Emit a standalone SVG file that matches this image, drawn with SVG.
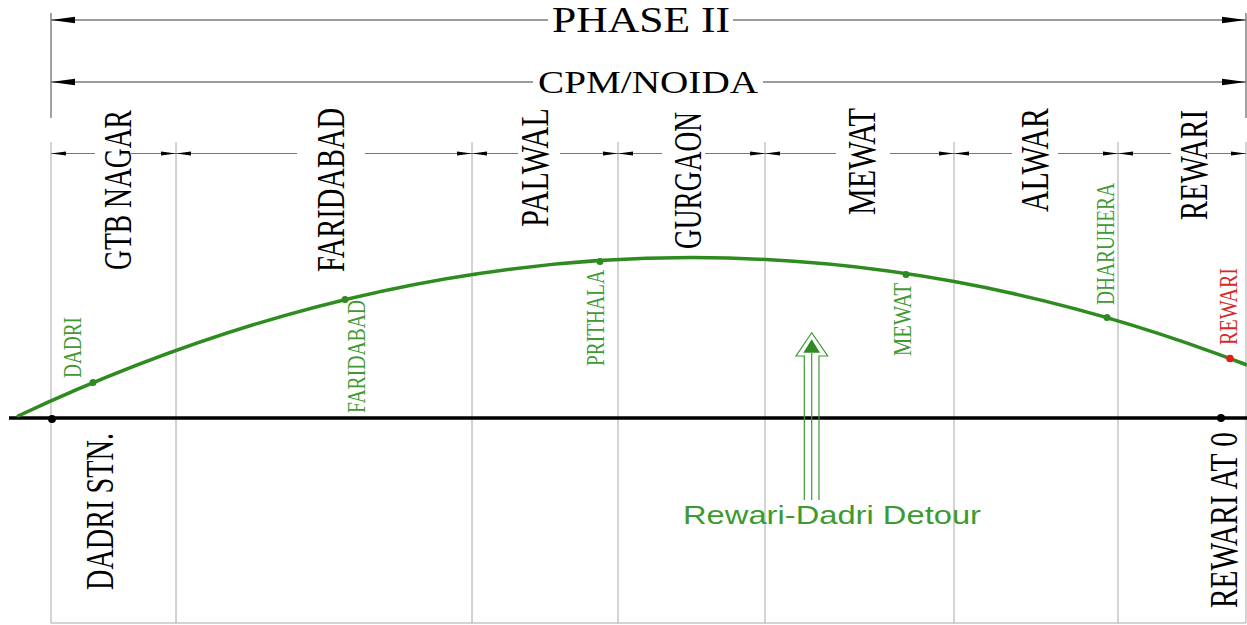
<svg xmlns="http://www.w3.org/2000/svg" width="1247" height="625" viewBox="0 0 1247 625">
<style>
.bg{fill:#fff}
.frame{stroke:#7a7a7a;stroke-width:1.4;fill:none}
.dim{stroke:#777;stroke-width:1;fill:none}
.grid{stroke:#a8a8a8;stroke-width:1;fill:none}
.base{stroke:#000;stroke-width:3.5;fill:none}
.route{stroke:#2e8b1f;stroke-width:3.5;fill:none}
.ar{fill:#000}
.lbl{font-family:"Liberation Serif","Times New Roman",serif;fill:#000;font-size:39px}
.title{font-family:"Liberation Serif","Times New Roman",serif;fill:#000}
.glbl{font-family:"Liberation Serif","Times New Roman",serif;fill:#3f9a33;font-size:25px}
.rlbl{font-family:"Liberation Serif","Times New Roman",serif;fill:#d42a2a;font-size:25px}
.gdot{fill:#2e8b1f}
.det{stroke:#3c9a30;stroke-width:1.2;fill:none}
.dett{font-family:"Liberation Sans",Arial,sans-serif;fill:#3c9a30;font-size:26.5px}
</style>
<defs>
<path id="dL" d="M0,0 L15,-2 L15,2 Z"/>
<path id="dR" d="M0,0 L-15,-2 L-15,2 Z"/>
<path id="bL" d="M0,0 L24,-3.2 L24,3.2 Z"/>
<path id="bR" d="M0,0 L-24,-3.2 L-24,3.2 Z"/>
</defs>
<rect class="bg" x="0" y="0" width="1247" height="625"/>

<g id="frame">
<line class="frame" x1="51" y1="13" x2="51" y2="118"/>
<line class="frame" x1="1246" y1="13" x2="1246" y2="118"/>
<line class="grid" x1="51" y1="142" x2="51" y2="623"/>
<line class="grid" x1="1246" y1="142" x2="1246" y2="623"/>
<line class="grid" x1="51" y1="623" x2="1246" y2="623"/>
<line class="grid" x1="176" y1="142" x2="176" y2="623"/>
<line class="grid" x1="472" y1="142" x2="472" y2="623"/>
<line class="grid" x1="618" y1="142" x2="618" y2="623"/>
<line class="grid" x1="765" y1="142" x2="765" y2="623"/>
<line class="grid" x1="954" y1="142" x2="954" y2="623"/>
<line class="grid" x1="1118" y1="142" x2="1118" y2="623"/>
</g>

<g id="connectors">
<!-- PHASE II dimension -->
<line class="frame" x1="51" y1="20" x2="548" y2="20"/>
<line class="frame" x1="733" y1="20" x2="1246" y2="20"/>
<use href="#bL" class="ar" x="51" y="20"/>
<use href="#bR" class="ar" x="1246" y="20"/>
<!-- CPM/NOIDA dimension -->
<line class="frame" x1="51" y1="82" x2="533" y2="82"/>
<line class="frame" x1="763" y1="82" x2="1246" y2="82"/>
<use href="#bL" class="ar" x="51" y="82"/>
<use href="#bR" class="ar" x="1246" y="82"/>
<!-- district dimension row -->
<path class="dim" d="M51,153.5H95M131,153.5H176M176,153.5H297M365,153.5H472M472,153.5H518M560,153.5H618M618,153.5H662M705,153.5H765M765,153.5H836M890,153.5H954M954,153.5H1012M1058,153.5H1118M1118,153.5H1171M1208,153.5H1246"/>
<use href="#dL" class="ar" x="51" y="153.5"/>
<use href="#dR" class="ar" x="176" y="153.5"/><use href="#dL" class="ar" x="176" y="153.5"/>
<use href="#dR" class="ar" x="472" y="153.5"/><use href="#dL" class="ar" x="472" y="153.5"/>
<use href="#dR" class="ar" x="618" y="153.5"/><use href="#dL" class="ar" x="618" y="153.5"/>
<use href="#dR" class="ar" x="765" y="153.5"/><use href="#dL" class="ar" x="765" y="153.5"/>
<use href="#dR" class="ar" x="954" y="153.5"/><use href="#dL" class="ar" x="954" y="153.5"/>
<use href="#dR" class="ar" x="1118" y="153.5"/><use href="#dL" class="ar" x="1118" y="153.5"/>
<use href="#dR" class="ar" x="1246" y="153.5"/>
<!-- baseline track and detour curve -->
<line class="base" x1="9" y1="418" x2="1247" y2="418"/>
<path class="route" d="M17,416.5 Q632,127 1247,365"/>
</g>

<g id="titles">
<text class="title" x="552" y="32" font-size="36" textLength="178" lengthAdjust="spacingAndGlyphs">PHASE II</text>
<text class="title" x="538" y="93" font-size="32" textLength="220" lengthAdjust="spacingAndGlyphs">CPM/NOIDA</text>
</g>

<g id="districts">
<text class="lbl" transform="translate(131,270) rotate(-90)" textLength="160" lengthAdjust="spacingAndGlyphs">GTB NAGAR</text>
<text class="lbl" transform="translate(344,272) rotate(-90)" textLength="164" lengthAdjust="spacingAndGlyphs">FARIDABAD</text>
<text class="lbl" transform="translate(548,227) rotate(-90)" textLength="119" lengthAdjust="spacingAndGlyphs">PALWAL</text>
<text class="lbl" transform="translate(701,249) rotate(-90)" textLength="137" lengthAdjust="spacingAndGlyphs">GURGAON</text>
<text class="lbl" transform="translate(875,215) rotate(-90)" textLength="107" lengthAdjust="spacingAndGlyphs">MEWAT</text>
<text class="lbl" transform="translate(1048,212) rotate(-90)" textLength="104" lengthAdjust="spacingAndGlyphs">ALWAR</text>
<text class="lbl" transform="translate(1207,220) rotate(-90)" textLength="110" lengthAdjust="spacingAndGlyphs">REWARI</text>
</g>

<g id="stations">
<g id="st-dadri"><circle class="gdot" cx="93" cy="382.5" r="3.5"/><text class="glbl" transform="translate(81,378) rotate(-90)" textLength="61" lengthAdjust="spacingAndGlyphs">DADRI</text></g>
<g id="st-faridabad"><circle class="gdot" cx="345" cy="299.5" r="3.5"/><text class="glbl" transform="translate(365,413) rotate(-90)" textLength="113" lengthAdjust="spacingAndGlyphs">FARIDABAD</text></g>
<g id="st-prithala"><circle class="gdot" cx="600" cy="261.5" r="3.5"/><text class="glbl" transform="translate(604,366) rotate(-90)" textLength="96" lengthAdjust="spacingAndGlyphs">PRITHALA</text></g>
<g id="st-mewat"><circle class="gdot" cx="906" cy="274.5" r="3.5"/><text class="glbl" transform="translate(911,356) rotate(-90)" textLength="73" lengthAdjust="spacingAndGlyphs">MEWAT</text></g>
<g id="st-dharuhera"><circle class="gdot" cx="1107" cy="317.5" r="3.5"/><text class="glbl" transform="translate(1114,305) rotate(-90)" textLength="122" lengthAdjust="spacingAndGlyphs">DHARUHERA</text></g>
<g id="st-rewari"><circle cx="1230" cy="358.5" r="3.8" fill="#e01e1e"/><text class="rlbl" transform="translate(1237,345) rotate(-90)" textLength="77" lengthAdjust="spacingAndGlyphs">REWARI</text></g>
</g>

<g id="endpoints">
<g id="dadri-stn"><circle cx="52" cy="419" r="4" fill="#000"/><text class="lbl" transform="translate(113,590) rotate(-90)" textLength="157" lengthAdjust="spacingAndGlyphs">DADRI STN.</text></g>
<g id="rewari-at0"><circle cx="1221" cy="418" r="4" fill="#000"/><text class="lbl" transform="translate(1237,608) rotate(-90)" textLength="176" lengthAdjust="spacingAndGlyphs">REWARI AT 0</text></g>
</g>

<g id="detour">
<path class="det" d="M804.3,500 V356 H796 L811.7,332.7 L827.7,356 H819 V500"/>
<line class="det" x1="811.7" y1="353" x2="811.7" y2="500"/>
<path d="M811.7,339.3 L820,352.7 L803.4,352.7 Z" fill="#2e8b1f"/>
<text class="dett" x="683" y="524" textLength="298" lengthAdjust="spacingAndGlyphs">Rewari-Dadri Detour</text>
</g>
</svg>
